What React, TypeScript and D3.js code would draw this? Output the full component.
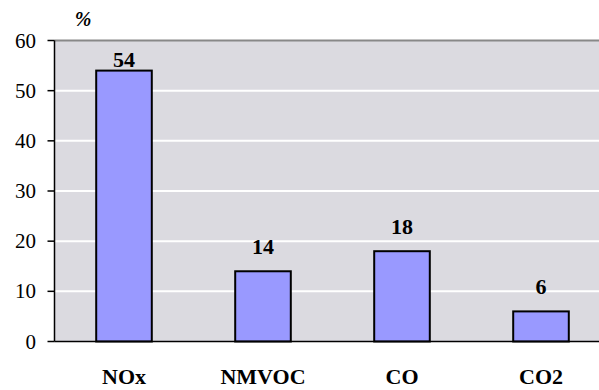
import React from "react";
import * as d3 from "d3";

// Emission shares by pollutant, in percent
const categories: string[] = ["NOx", "NMVOC", "CO", "CO2"];
const shares: number[] = [54, 14, 18, 6];
const yTicks: number[] = [0, 10, 20, 30, 40, 50, 60];
const unitLabel = "%";

const W = 599;
const H = 390;
const plotLeft = 54.5;
const plotRight = 610.5;
const plotTop = 40.5;
const plotBottom = 341.5;

const FONT = "Liberation Serif, Times New Roman, Times, DejaVu Serif, serif";

export default function App() {
  const x = d3
    .scaleBand<string>()
    .domain(categories)
    .range([plotLeft, plotRight])
    .paddingInner(0.6)
    .paddingOuter(0.3);
  const y = d3.scaleLinear().domain([0, 60]).range([plotBottom, plotTop]);

  const txt = { fontFamily: FONT } as React.CSSProperties;

  return (
    <svg
      width={W}
      height={H}
      style={{ position: "absolute", left: 0, top: 0, background: "#fff", fontFamily: FONT }}
    >
      {/* plot background */}
      <rect
        x={plotLeft}
        y={plotTop}
        width={plotRight - plotLeft}
        height={plotBottom - plotTop}
        fill="#DBDAE0"
      />
      {/* horizontal gridlines */}
      {yTicks
        .filter((t) => t > 0 && t < 60)
        .map((t) => (
          <line
            key={"g" + t}
            x1={plotLeft}
            x2={plotRight}
            y1={y(t)}
            y2={y(t)}
            stroke="#ffffff"
            strokeWidth={2}
          />
        ))}
      {/* top border */}
      <line
        x1={plotLeft}
        x2={plotRight}
        y1={plotTop}
        y2={plotTop}
        stroke="#888888"
        strokeWidth={2}
      />
      {/* bars */}
      {categories.map((c, i) => (
        <rect
          key={c}
          x={x(c)}
          y={y(shares[i])}
          width={x.bandwidth()}
          height={y(0) - y(shares[i])}
          fill="#9999FF"
          stroke="#000"
          strokeWidth={2}
        />
      ))}
      {/* value labels */}
      {categories.map((c, i) => (
        <text
          key={"v" + c}
          x={(x(c) as number) + x.bandwidth() / 2}
          y={Math.max(y(shares[i]) - 17, plotTop + 26)}
          textAnchor="middle"
          style={txt}
          fontWeight="bold"
          fontSize={22}
          fill="#000"
        >
          {shares[i]}
        </text>
      ))}
      {/* y axis */}
      <line
        x1={plotLeft}
        x2={plotLeft}
        y1={plotTop}
        y2={plotBottom}
        stroke="#000"
        strokeWidth={1.5}
      />
      {yTicks.map((t) => (
        <g key={"t" + t}>
          <line
            x1={plotLeft - 7}
            x2={plotLeft}
            y1={y(t)}
            y2={y(t)}
            stroke="#000"
            strokeWidth={1.5}
          />
          <text
            x={36}
            y={y(t) + 7}
            textAnchor="end"
            style={txt}
            fontSize={21}
            fill="#000"
          >
            {t}
          </text>
        </g>
      ))}
      {/* x axis */}
      <line
        x1={plotLeft}
        x2={plotRight}
        y1={plotBottom}
        y2={plotBottom}
        stroke="#000"
        strokeWidth={1.5}
      />
      {categories.map((c) => (
        <text
          key={"c" + c}
          x={(x(c) as number) + x.bandwidth() / 2}
          y={384}
          textAnchor="middle"
          style={txt}
          fontWeight="bold"
          fontSize={22}
          fill="#000"
        >
          {c}
        </text>
      ))}
      {/* unit label */}
      <text
        x={83}
        y={26}
        textAnchor="middle"
        style={txt}
        fontWeight="bold"
        fontStyle="italic"
        fontSize={20}
        fill="#000"
      >
        {unitLabel}
      </text>
    </svg>
  );
}
